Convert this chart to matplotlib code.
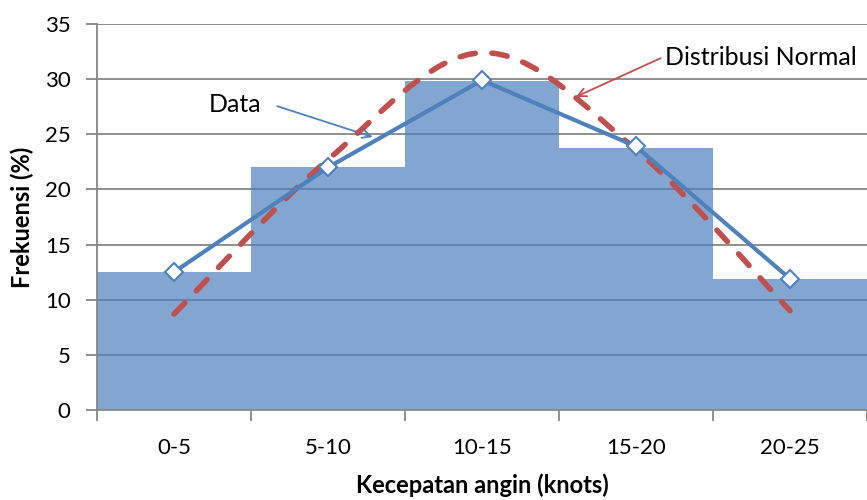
import numpy as np
import matplotlib.pyplot as plt
from matplotlib.path import Path
from matplotlib.patches import PathPatch

plt.rcParams['font.family'] = ['Lato', 'DejaVu Sans']

# data
categories = ['0-5', '5-10', '10-15', '15-20', '20-25']
frekuensi = [12.5, 22.0, 29.8, 23.8, 11.9]     # bars (%)
data_line = [12.5, 22.0, 29.9, 23.9, 11.9]     # "Data" line
normal = [8.7, 22.7, 32.4, 23.6, 9.0]          # "Distribusi Normal" curve

bar_color = '#82a6d0'
blue = '#4f81bd'
red = '#c0504d'
grid_gray = '#878787'

fig = plt.figure(figsize=(8.67, 5.0), dpi=100)
ax = fig.add_axes([0.1119, 0.18, 0.8881, 0.772])

x = np.arange(len(categories))

# gridlines behind bars
for level in range(5, 40, 5):
    ax.axhline(level, color=grid_gray, lw=1.3, zorder=0)

ax.bar(x, frekuensi, width=1.0, color=bar_color, zorder=1)

# gridlines show through the bars a bit darker
for xi, h in zip(x, frekuensi):
    levels = [lv for lv in range(5, 40, 5) if lv < h]
    ax.hlines(levels, xi - 0.5, xi + 0.5, color='#5e80aa', lw=1.3, zorder=2)

# smoothed normal curve (bezier through the points, like Excel's smooth line)
pts = np.column_stack([x, normal]).astype(float)
ext = np.vstack([pts[0], pts, pts[-1]])
verts = [tuple(pts[0])]
codes = [Path.MOVETO]
for i in range(len(pts) - 1):
    p0, p1, p2, p3 = ext[i], ext[i + 1], ext[i + 2], ext[i + 3]
    c1 = p1 + (p2 - p0) / 6
    c2 = p2 - (p3 - p1) / 6
    verts += [tuple(c1), tuple(c2), tuple(p2)]
    codes += [Path.CURVE4] * 3
curve = PathPatch(Path(verts, codes), facecolor='none', edgecolor=red, lw=4.0,
                  linestyle=(0, (2.8, 3.0)), capstyle='round', zorder=4)
ax.add_patch(curve)

ax.plot(x, data_line, color=blue, lw=3.0, marker='D', markersize=9,
        markerfacecolor='white', markeredgecolor=blue, markeredgewidth=1.5,
        zorder=5)

# callouts
ax.text(0.57, 27.7, 'Data', ha='right', va='center', fontsize=18)
ax.annotate('', xy=(1.29, 24.75), xytext=(0.67, 27.55),
            arrowprops=dict(arrowstyle='->,head_length=0.6,head_width=0.3',
                            color=blue, lw=1.3, shrinkA=0, shrinkB=0))
ax.text(3.19, 32.0, 'Distribusi Normal', ha='left', va='center', fontsize=18)
ax.annotate('', xy=(2.61, 28.4), xytext=(3.16, 31.9),
            arrowprops=dict(arrowstyle='->,head_length=0.6,head_width=0.3',
                            color=red, lw=1.3, shrinkA=0, shrinkB=0))

ax.set_xlim(-0.5, 4.5)
ax.set_ylim(0, 35)
ax.set_yticks(range(0, 40, 5))
ax.set_xticks(np.arange(-0.5, 5.0, 1.0))
ax.set_xticklabels([])
ax.set_xticks(x, minor=True)
ax.set_xticklabels(categories, minor=True)
ax.tick_params(axis='x', which='major', length=8, width=1.3, color=grid_gray)
ax.tick_params(axis='x', which='minor', length=0, pad=20, labelsize=16)
ax.tick_params(axis='y', length=8, width=1.3, color=grid_gray, labelsize=16, pad=11)

for side in ['top', 'right']:
    ax.spines[side].set_visible(False)
for side in ['left', 'bottom']:
    ax.spines[side].set_color(grid_gray)
    ax.spines[side].set_linewidth(1.3)
    ax.spines[side].set_zorder(6)

ax.set_ylabel('Frekuensi (%)', fontsize=17, fontweight='bold')
ax.yaxis.set_label_coords(-0.082, 0.5)
ax.set_xlabel('Kecepatan angin (knots)', fontsize=17, fontweight='bold', va='top')
ax.xaxis.set_label_coords(0.5, -0.165)

fig.savefig('out.png', dpi=100)
